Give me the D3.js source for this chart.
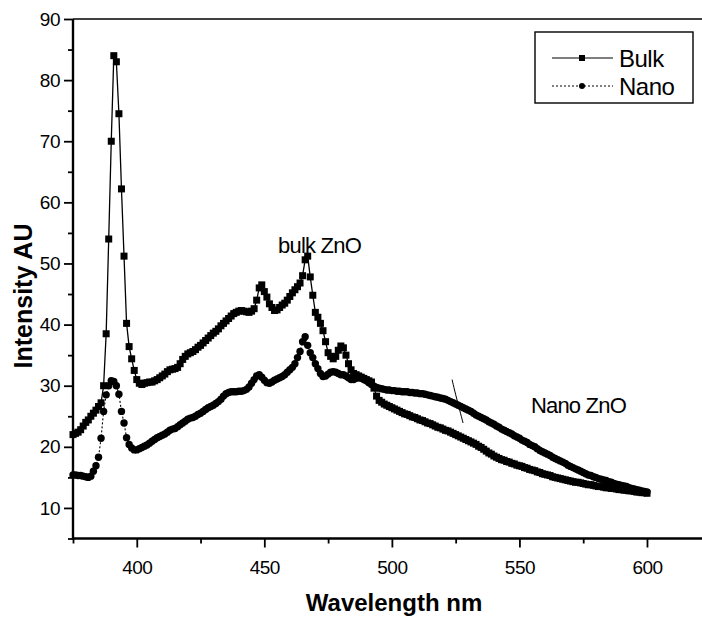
<!DOCTYPE html>
<html><head><meta charset="utf-8">
<script src="https://cdn.jsdelivr.net/npm/d3@7/dist/d3.min.js"></script>
<style>
body{margin:0;background:#fff}
svg{display:block}
text{font-family:"Liberation Sans",Arial,Helvetica,sans-serif;fill:#000}
</style>
</head><body>
<svg id="chart" width="702" height="618"></svg>
<script>
// ---------------- DATA ----------------
const wlStart = 375, wlEnd = 600;           // wavelengths sampled every 1 nm
const wavelengths = d3.range(wlStart, wlEnd + 1);

const bulk = [
 22.0,22.2,22.4,22.8,23.4,24.0,24.4,25.0,25.5,26.0,26.6,27.2,              // 375-386
 30.0,38.5,54.0,70.0,84.0,83.0,74.5,62.2,51.2,40.2,36.4,34.4,32.5,31.0,    // 387-400
 30.4,30.2,30.4,30.5,30.6,30.6,30.8,31.0,31.3,31.6,                        // 401-410
 31.9,32.3,32.6,32.7,32.8,33.0,33.6,34.3,34.8,35.2,                        // 411-420
 35.4,35.6,35.9,36.3,36.6,37.0,37.4,37.8,38.2,38.6,                        // 421-430
 38.9,39.3,39.8,40.2,40.6,41.0,41.4,41.8,42.0,42.2,                        // 431-440
 42.3,42.2,42.1,42.0,42.2,42.6,44.0,46.0,46.5,45.4,                        // 441-450
 44.5,43.4,42.8,42.3,42.4,42.8,43.2,43.5,44.0,44.6,                        // 451-460
 45.2,45.7,46.2,46.8,48.0,50.6,51.2,47.8,44.8,42.0,                        // 461-470
 41.2,40.2,39.0,37.2,35.4,34.8,34.4,34.8,35.8,36.5,                        // 471-480
 36.2,35.0,33.6,32.6,32.0,31.8,31.6,31.4,31.2,31.0,                        // 481-490
 30.8,30.6,29.6,28.3,27.6,27.3,27.0,26.8,26.6,26.4,                        // 491-500
 26.2,26.0,25.8,25.6,25.4,25.3,25.1,24.9,24.8,24.6,                        // 501-510
 24.4,24.3,24.1,23.9,23.8,23.6,23.4,23.2,23.1,22.9,                        // 511-520
 22.7,22.6,22.4,22.2,22.0,21.8,21.6,21.4,21.2,21.0,                        // 521-530
 20.8,20.6,20.4,20.1,19.9,19.6,19.3,19.0,18.8,18.5,                        // 531-540
 18.3,18.1,17.9,17.8,17.6,17.5,17.3,17.2,17.0,16.9,                        // 541-550
 16.8,16.6,16.5,16.3,16.2,16.1,15.9,15.8,15.6,15.5,                        // 551-560
 15.4,15.3,15.1,15.0,14.9,14.8,14.7,14.6,14.5,14.4,                        // 561-570
 14.3,14.2,14.2,14.1,14.0,13.9,13.8,13.8,13.7,13.6,                        // 571-580
 13.5,13.5,13.4,13.3,13.3,13.2,13.2,13.1,13.0,13.0,                        // 581-590
 12.9,12.9,12.8,12.8,12.7,12.6,12.6,12.5,12.5,12.4                         // 591-600
];

const nano = [
 15.4,15.4,15.3,15.3,15.2,15.1,15.0,15.2,16.0,16.9,18.3,21.4,              // 375-386
 25.8,28.5,30.0,30.8,30.7,30.0,28.6,25.8,23.9,21.5,20.4,19.8,19.5,19.5,    // 387-400
 19.7,19.9,20.1,20.3,20.6,20.9,21.2,21.5,21.7,21.9,                        // 401-410
 22.1,22.4,22.7,22.9,23.0,23.3,23.6,23.9,24.2,24.5,                        // 411-420
 24.7,24.8,25.0,25.3,25.5,25.8,26.1,26.4,26.6,26.8,                        // 421-430
 27.1,27.4,27.8,28.3,28.7,28.9,29.0,29.0,29.0,29.1,                        // 431-440
 29.1,29.2,29.4,29.8,30.4,31.0,31.6,31.8,31.4,30.9,                        // 441-450
 30.5,30.4,30.6,30.9,31.1,31.3,31.5,31.8,32.2,32.6,                        // 451-460
 33.0,33.6,34.6,35.6,37.2,38.0,36.6,35.4,34.6,33.6,                        // 461-470
 32.8,32.0,31.5,31.6,31.9,32.2,32.3,32.2,32.0,31.8,                        // 471-480
 31.8,31.6,31.3,31.0,31.0,31.2,31.3,31.2,31.0,30.8,                        // 481-490
 30.5,30.2,29.9,29.7,29.6,29.5,29.4,29.3,29.3,29.2,                        // 491-500
 29.2,29.1,29.1,29.0,29.0,29.0,28.9,28.9,28.8,28.8,                        // 501-510
 28.7,28.7,28.6,28.5,28.4,28.3,28.2,28.1,28.0,27.9,                        // 511-520
 27.8,27.6,27.4,27.2,27.0,26.8,26.6,26.4,26.2,26.0,                        // 521-530
 25.8,25.5,25.2,25.0,24.8,24.6,24.4,24.1,23.9,23.7,                        // 531-540
 23.4,23.2,22.9,22.7,22.5,22.3,22.1,21.8,21.6,21.4,                        // 541-550
 21.1,20.9,20.7,20.4,20.2,20.0,19.7,19.4,19.2,19.0,                        // 551-560
 18.8,18.6,18.3,18.1,17.9,17.7,17.5,17.3,17.0,16.8,                        // 561-570
 16.6,16.4,16.2,16.0,15.8,15.6,15.4,15.3,15.1,15.0,                        // 571-580
 14.8,14.7,14.6,14.5,14.3,14.2,14.0,13.9,13.8,13.7,                        // 581-590
 13.6,13.5,13.3,13.2,13.1,13.0,12.9,12.8,12.7,12.6                         // 591-600
];

const xDomain = [375, 625];
const yDomain = [5, 90];
const xTicks = [400, 450, 500, 550, 600];
const xMinorTicks = [375, 425, 475, 525, 575, 625];
const yTicks = [10, 20, 30, 40, 50, 60, 70, 80, 90];
const yMinorTicks = [5, 15, 25, 35, 45, 55, 65, 75, 85];
const seriesNames = ["Bulk", "Nano"];
const xTitle = "Wavelength nm";
const yTitle = "Intensity AU";
const annotations = [
  {text: "bulk ZnO", wl: 455.4, v: 51.7},
  {text: "Nano ZnO", wl: 554.5, v: 25.5}
];
// stray pencil stroke visible on the scan (wavelength, intensity)
const pencilMark = [[523.6, 31.0], [525.0, 28.5], [526.6, 26.0], [527.9, 23.9]];

// ---------------- CHART ----------------
const svg = d3.select("#chart");
const x = d3.scaleLinear().domain(xDomain).range([73, 73 + 250 * 2.551]);
const y = d3.scaleLinear().domain(yDomain).range([538.5, 19]);

// frame top line
svg.append("line").attr("x1", x(xDomain[0])).attr("x2", x(xDomain[1]))
  .attr("y1", y(yDomain[1])).attr("y2", y(yDomain[1]))
  .attr("stroke", "#000").attr("stroke-width", 1.6);

// X axis
const gx = svg.append("g").attr("transform", `translate(0,${y(yDomain[0])})`);
gx.call(d3.axisBottom(x).tickValues(xTicks).tickSize(9).tickPadding(13).tickFormat(d3.format("d")));
const gxm = svg.append("g").attr("transform", `translate(0,${y(yDomain[0])})`);
gxm.call(d3.axisBottom(x).tickValues(xMinorTicks).tickSize(5).tickFormat(""));
[gx, gxm].forEach(g => {
  g.select(".domain").attr("stroke-width", 2.2).attr("d", `M${x(xDomain[0])},0H${x(xDomain[1])}`);
  g.selectAll(".tick line").attr("stroke-width", 1.8);
});
gx.selectAll(".tick text").attr("font-size", 19).attr("letter-spacing", -0.5)
  .attr("font-family", "Liberation Sans, Arial, sans-serif");

// Y axis
const gy = svg.append("g").attr("transform", `translate(${x(xDomain[0])},0)`);
gy.call(d3.axisLeft(y).tickValues(yTicks).tickSize(9).tickPadding(4).tickFormat(d3.format("d")));
const gym = svg.append("g").attr("transform", `translate(${x(xDomain[0])},0)`);
gym.call(d3.axisLeft(y).tickValues(yMinorTicks).tickSize(5).tickFormat(""));
[gy, gym].forEach(g => {
  g.select(".domain").attr("stroke-width", 2.2).attr("d", `M0,${y(yDomain[0])}V${y(yDomain[1])}`);
  g.selectAll(".tick line").attr("stroke-width", 1.8);
});
gy.selectAll(".tick text").attr("font-size", 19).attr("letter-spacing", -0.5)
  .attr("font-family", "Liberation Sans, Arial, sans-serif");

// Axis titles
svg.append("text").attr("x", 394).attr("y", 611).attr("text-anchor", "middle")
  .attr("font-size", 24).attr("font-weight", "bold").text(xTitle);
svg.append("text").attr("transform", "translate(32,296) rotate(-90)").attr("text-anchor", "middle")
  .attr("font-size", 25).attr("font-weight", "bold").text(yTitle);

// Series
const bulkData = wavelengths.map((w, i) => ({w, v: bulk[i]}));
const nanoData = wavelengths.map((w, i) => ({w, v: nano[i]}));
const line = d3.line().x(d => x(d.w)).y(d => y(d.v));

svg.append("path").datum(nanoData).attr("d", line).attr("fill", "none")
  .attr("stroke", "#000").attr("stroke-width", 1.1).attr("stroke-dasharray", "2,2");
svg.append("g").selectAll("circle").data(nanoData).join("circle")
  .attr("cx", d => x(d.w)).attr("cy", d => y(d.v)).attr("r", 3.7).attr("fill", "#000");

svg.append("path").datum(bulkData).attr("d", line).attr("fill", "none")
  .attr("stroke", "#000").attr("stroke-width", 1.3);
svg.append("g").selectAll("rect").data(bulkData).join("rect")
  .attr("x", d => x(d.w) - 3.5).attr("y", d => y(d.v) - 3.5)
  .attr("width", 7).attr("height", 7).attr("fill", "#000");

// Annotations
svg.append("g").selectAll("text").data(annotations).join("text")
  .attr("x", d => x(d.wl)).attr("y", d => y(d.v))
  .attr("font-size", 22).attr("letter-spacing", -0.8).text(d => d.text);
svg.append("path").datum(pencilMark)
  .attr("d", d3.line().x(d => x(d[0])).y(d => y(d[1])).curve(d3.curveBasis))
  .attr("fill", "none").attr("stroke", "#000").attr("stroke-width", 1);

// Legend
const lg = svg.append("g");
lg.append("rect").attr("x", 535).attr("y", 32).attr("width", 158).attr("height", 71)
  .attr("fill", "#fff").attr("stroke", "#000").attr("stroke-width", 1.4);
const rows = [58, 86];
seriesNames.forEach((name, i) => {
  const ry = rows[i];
  lg.append("line").attr("x1", 552).attr("x2", 613).attr("y1", ry).attr("y2", ry)
    .attr("stroke", "#000").attr("stroke-width", 1.1)
    .attr("stroke-dasharray", i === 0 ? null : "2,2");
  if (i === 0) {
    lg.append("rect").attr("x", 579).attr("y", ry - 3).attr("width", 6).attr("height", 6).attr("fill", "#000");
  } else {
    lg.append("circle").attr("cx", 582).attr("cy", ry).attr("r", 3).attr("fill", "#000");
  }
  lg.append("text").attr("x", 619).attr("y", ry + 9).attr("font-size", 24)
    .attr("letter-spacing", -0.5).text(name);
});
</script>
</body></html>
